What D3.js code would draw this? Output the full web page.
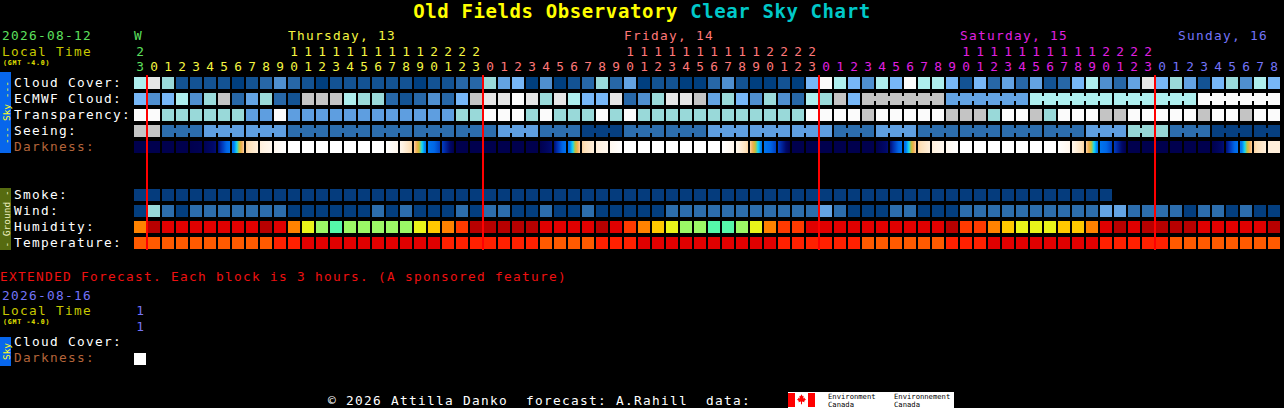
<!DOCTYPE html>
<html><head><meta charset="utf-8">
<script src="https://cdn.jsdelivr.net/npm/d3@7"></script>
<style>
html,body{margin:0;padding:0;background:#000;overflow:hidden}
svg{display:block}
text{font-family:"DejaVu Sans Mono",monospace;white-space:pre}
</style></head><body>
<svg id="c" width="1284" height="408"></svg>
<script>
// ---------------- DATA ----------------
const chartTitle = "Old Fields Observatory";
const chartSubtitle = "Clear Sky Chart";
const startDate = "2026-08-12";
const extDate = "2026-08-16";
const dayNames = ["W", "Thursday, 13", "Friday, 14", "Saturday, 15", "Sunday, 16"];
const hourLabels = [23,
  0,1,2,3,4,5,6,7,8,9,10,11,12,13,14,15,16,17,18,19,20,21,22,23,
  0,1,2,3,4,5,6,7,8,9,10,11,12,13,14,15,16,17,18,19,20,21,22,23,
  0,1,2,3,4,5,6,7,8,9,10,11,12,13,14,15,16,17,18,19,20,21,22,23,
  0,1,2,3,4,5,6,7,8];
// cloud cover %, hourly
const cloudCover = [80,95,70,10,10,10,10,0,10,20,40,20,10,0,10,10,10,10,10,10,0,
  10,10,20,20,70,50,60,0,40,0,10,20,70,20,50,0,10,10,0,0,20,40,10,0,0,10,0,60,100,80,
  60,40,80,60,100,80,80,60,10,60,20,50,20,50,10,20,60,80,40,20,50,95,60,70,50,10,60,70,40,80,60];
// ECMWF cloud %, hourly part then 6-hour blocks [value, hours]
const ecmwfHourly = [60,40,60,80,40,70,90,20,50,70,20,10,90,90,90,80,70,70,20,10,20,
  40,20,60,90,95,95,100,95,70,95,80,60,60,95,20,40,70,95,95,90,50,70,60,40,70,40,20,80,70,90,
  60];
const ecmwfBlocks = [[90,6],[50,6],[80,6],[80,6],[100,6]];
// transparency class (0 too cloudy .. 5 transparent)
const transparency = [0,0,2,2,2,2,2,2,3,3,0,3,3,3,3,3,3,3,3,3,3,
  3,3,2,2,0,0,0,2,0,2,2,2,0,2,0,2,2,2,2,2,2,2,2,2,2,2,2,0,0,0,
  0,1,0,0,0,0,0,1,1,1,2,0,0,1,2,0,0,0,1,1,0,0,0,0,0,1,0,0,1,0,0];
// seeing class runs [class, hours] (0 = too cloudy, 1 bad .. 5 excellent)
const seeingRuns = [[0,2],[2,3],[3,3],[3,3],[2,3],[2,3],[2,3],[2,3],[2,3],[3,3],[2,3],[1,3],[2,3],[2,3],
  [3,3],[3,3],[3,3],[2,3],[3,3],[2,3],[2,3],[2,3],[2,3],[3,3],[5,3],[2,3],[1,3],[1,2]];
// darkness (limiting magnitude like scale, -4 day .. 6 dark)
const darkness = [6,6,6,6,6,5.8,5,1.5,-1.8,-2.8,-3.4,-4,-4,-4,-4,-4,-4,-4,-4,-3.3,-1.8,1.2,3.6,
  6,6,6,6,6,6,6,5,1.5,-1.8,-2.8,-3.4,-4,-4,-4,-4,-4,-4,-4,-4,-3.3,-1.8,1.2,3.6,
  6,6,6,6,6,6,6,5,1.5,-1.8,-2.8,-3.4,-4,-4,-4,-4,-4,-4,-4,-4,-3.3,-1.8,1.2,3.6,
  6,6,6,6,6,6,6,5,1.5,-1.8,-2.8];
// smoke (ug/m3), available hours only
const smoke = [0,0,0,0,0,0,0,0,0,0,0,0,0,0,0,0,0,0,0,0,0,0,0,0,0,0,0,0,0,0,0,0,0,0,0,
  0,0,0,0,0,0,0,0,0,0,0,0,0,0,0,0,0,0,0,0,0,0,0,0,0,0,0,0,0,0,0,0,0,0,0];
// wind mph
const wind = [3,20,8,3,8,8,8,8,8,8,8,3,3,3,3,3,3,8,3,8,3,
  3,3,8,3,8,8,3,3,8,3,3,8,3,3,3,3,3,8,8,8,8,8,8,8,8,8,8,8,14,8,
  3,3,3,8,8,3,3,3,8,8,8,8,8,8,8,8,8,8,14,14,8,8,8,8,3,8,8,3,8,3,3];
// humidity %
const humidity = [65,95,85,85,85,85,85,85,85,95,85,65,55,50,45,50,50,50,50,50,55,
  60,65,75,95,95,95,95,95,85,85,85,85,95,85,75,65,60,55,50,50,45,45,50,55,65,75,75,85,85,85,
  85,85,85,85,85,85,85,95,75,75,65,60,55,55,55,60,60,65,85,95,85,95,95,95,95,85,85,85,85,85,95];
// temperature C
const temperature = [21,21,21,21,21,21,21,21,21,21,24,24,27,27,27,27,27,27,27,27,27,27,
  24,24,24,24,24,24,24,21,21,21,21,24,24,24,27,27,27,27,27,27,27,27,27,27,
  24,24,24,24,24,24,21,21,21,21,21,21,24,24,24,27,27,27,27,27,27,27,27,24,24,24,24,24,
  21,21,21,21,21,21,21,21];
// extended forecast (3 hour blocks)
const extHours = [11];
const extCloud = [null];
const extDarkness = [-4];

// ---------------- STYLES ----------------
const FS = 12.8, LS = 9.0 - 0.602*12.8;
const cloudColor = d3.scaleOrdinal([0,10,20,30,40,50,60,70,80,90,95,100],
  ["#003f7f","#135393","#2767a7","#3b7bbb","#4f8fcf","#63a3e3","#77b7f7","#9adada","#aeeeee","#c4c4c4","#e6e6e6","#fbfbfb"]);
const transColor = d3.scaleOrdinal([0,1,2,3,4,5], ["#fbfbfb","#c4c4c4","#99d9d9","#5e9ee0","#2c6eae","#003f7f"]);
const seeingColor = d3.scaleOrdinal([0,1,2,3,4,5], ["#c4c4c4","#063f80","#2c6dad","#5e9ee0","#7fbfef","#96d6d6"]);
const windColor = d3.scaleOrdinal([3,8,14,20], ["#033e7f","#2c6dad","#63a3e3","#99d9d9"]);
const smokeColor = d3.scaleOrdinal([0], ["#053c7d"]);
const humColor = d3.scaleOrdinal([45,50,55,60,65,75,85,95],
  ["#55f7aa","#9bf866","#e9f41a","#ffc800","#ff8200","#ff3a00","#e00000","#b80000"]);
const tempColor = d3.scaleOrdinal([21,24,27], ["#ff5a00","#ff2000","#e00000"]);
const darkColor = d3.scaleLinear()
  .domain([-4,-3,-2,-1.2,-0.5,0.2,1,2.5,4,5.2,6])
  .range(["#ffffff","#fff3e4","#fde0b8","#f4ac58","#c8c030","#10d8f8","#0078f0","#0066e6","#0030b0","#000868","#00004e"])
  .clamp(true);
const dayColors = ["#5ee05e","#f5f540","#ff7878","#e020e0","#7474f8"];

// ---------------- DRAW ----------------
const svg = d3.select("#c");
svg.append("rect").attr("width",1284).attr("height",408).attr("fill","#000");
const defs = svg.append("defs");

const x = d3.scaleBand().domain(d3.range(hourLabels.length)).range([134,1280]).paddingInner(2/14).paddingOuter(0);
const bw = x.bandwidth();
const skyRows = ["Cloud Cover:","ECMWF Cloud:","Transparency:","Seeing:","Darkness:"];
const yS = d3.scaleBand().domain(skyRows).range([77,153]).paddingInner(0.25);
const groundRows = ["Smoke:","Wind:","Humidity:","Temperature:"];
const yG = d3.scaleBand().domain(groundRows).range([189,249]).paddingInner(0.25);
const bh = yS.bandwidth();

// title
const t = svg.append("text").attr("x",642).attr("y",17.5).attr("text-anchor","middle")
  .attr("font-size",19).attr("font-weight","bold").attr("letter-spacing",0.6);
t.append("tspan").attr("fill","#ffff00").text(chartTitle + " ");
t.append("tspan").attr("fill","#00c8c8").text(chartSubtitle);

function txt(str, xx, yy, color, size, opts={}) {
  const e = svg.append("text").attr("x",xx).attr("y",yy).attr("fill",color).attr("font-size",size).text(str);
  if (opts.anchor) e.attr("text-anchor",opts.anchor);
  if (opts.weight) e.attr("font-weight",opts.weight);
  if (opts.ls !== undefined) e.attr("letter-spacing",opts.ls);
  return e;
}
const T = {ls: LS};

// header left
txt(startDate, 2, 40, "#5ee05e", FS, T);
txt("Local Time", 2, 55.5, "#c8c800", FS, T);
txt("(GMT -4.0)", 3, 64.5, "#e8e800", 6.6, {weight:"bold", ls:0.75});

// day index per column
let d = 0; const dayOf = hourLabels.map((h,i) => { if (i > 0 && h === 0) d++; return d; });
// hour digits
hourLabels.forEach((h,i) => {
  const cx = x(i) + bw/2, col = dayColors[dayOf[i]];
  if (h >= 10) txt(String(Math.floor(h/10)), cx, 55.5, col, FS, {anchor:"middle"});
  txt(String(h%10), cx, 70.5, col, FS, {anchor:"middle"});
});
// day labels
dayNames.forEach((name, di) => {
  const cols = d3.range(hourLabels.length).filter(i => dayOf[i] === di);
  const c10 = cols.find(i => hourLabels[i] === 10);
  if (c10 !== undefined) txt(name, x(c10), 40, dayColors[di], FS, T);
  else if (cols.length === 1) txt(name, x(cols[0]), 40, dayColors[di], FS, T);
  else txt(name, x(cols[cols.length-1]), 40, dayColors[di], FS, {anchor:"end", ls:LS});
});

// side bars
function sideBar(y0, y1, fill, label, color) {
  svg.append("rect").attr("x",0).attr("y",y0).attr("width",11).attr("height",y1-y0).attr("fill",fill);
  svg.append("text").attr("transform",`translate(6,${(y0+y1)/2}) rotate(-90)`)
    .attr("text-anchor","middle").attr("dominant-baseline","central")
    .attr("fill",color).attr("font-size",9.5).text(label);
}
sideBar(72, 153, "#0766ec", "--- Sky ---", "#ffff20");
sideBar(188, 250, "#566b10", "- Ground -", "#f2f2c4");

// row labels
skyRows.forEach(r => txt(r, 14, yS(r)+10, r === "Darkness:" ? "#b4643a" : "#ffffff", FS, T));
groundRows.forEach(r => txt(r, 14, yG(r)+10, "#ffffff", FS, T));

// simple cells
function cells(values, yy, color) {
  svg.append("g").selectAll("rect").data(values.map((v,i)=>({v,i})).filter(o => o.v !== null))
    .join("rect").attr("x", o => x(o.i)).attr("y", yy).attr("width", bw).attr("height", bh)
    .attr("fill", o => color(o.v));
}
function runs(list, yy, color) {
  const g = svg.append("g");
  let c = 0;
  list.forEach(([v,n]) => {
    if (n > 1) g.append("rect").attr("x", x(c)).attr("y", yy+3).attr("width", x(c+n-1)+bw-x(c)).attr("height", 5).attr("fill", color(v));
    for (let k = 0; k < n; k++) g.append("rect").attr("x", x(c+k)).attr("y", yy).attr("width", bw).attr("height", bh).attr("fill", color(v));
    c += n;
  });
}
cells(cloudCover, yS("Cloud Cover:"), cloudColor);
runs(ecmwfHourly.map(v => [v,1]).concat(ecmwfBlocks), yS("ECMWF Cloud:"), cloudColor);
cells(transparency, yS("Transparency:"), transColor);
runs(seeingRuns, yS("Seeing:"), seeingColor);

// darkness gradients
darkness.forEach((v,i) => {
  const v1 = i < darkness.length-1 ? darkness[i+1] : v;
  const gr = defs.append("linearGradient").attr("id","dk"+i).attr("x1",0).attr("x2",1).attr("y1",0).attr("y2",0);
  d3.range(0, 1.0001, 1/12).forEach(tt => gr.append("stop").attr("offset", tt).attr("stop-color", darkColor(v + (v1 - v)*tt)));
  svg.append("rect").attr("x", x(i)).attr("y", yS("Darkness:")).attr("width", bw).attr("height", bh).attr("fill", `url(#dk${i})`);
});

cells(smoke, yG("Smoke:"), smokeColor);
cells(wind, yG("Wind:"), windColor);
cells(humidity, yG("Humidity:"), humColor);
cells(temperature, yG("Temperature:"), tempColor);

// midnight lines
hourLabels.forEach((h,i) => {
  if (h === 0) svg.append("rect").attr("x", x(i)-2).attr("y", 75).attr("width", 2).attr("height", 175).attr("fill", "#ff0000");
});

// extended forecast
txt("EXTENDED Forecast. Each block is 3 hours. (A sponsored feature)", 0, 281, "#ee1111", FS, T);
txt(extDate, 2, 300, "#7474f8", FS, T);
txt("Local Time", 2, 315, "#c8c800", FS, T);
txt("(GMT -4.0)", 3, 323.5, "#e8e800", 6.6, {weight:"bold", ls:0.75});
extHours.forEach((h,i) => {
  const cx = x(i) + bw/2;
  txt(String(Math.floor(h/10)), cx, 315, "#7474f8", FS, {anchor:"middle"});
  txt(String(h%10), cx, 330.5, "#7474f8", FS, {anchor:"middle"});
});
sideBar(337, 366, "#0766ec", "Sky", "#ffff20");
txt("Cloud Cover:", 14, 346, "#ffffff", FS, T);
txt("Darkness:", 14, 362, "#b4643a", FS, T);
extCloud.forEach((v,i) => { if (v !== null) svg.append("rect").attr("x",x(i)).attr("y",337).attr("width",bw).attr("height",bh).attr("fill",cloudColor(v)); });
extDarkness.forEach((v,i) => svg.append("rect").attr("x",x(i)).attr("y",353).attr("width",bw).attr("height",bh).attr("fill",darkColor(v)));

// footer
txt("© 2026 Attilla Danko  forecast: A.Rahill  data:", 328, 405, "#ffffff", FS, T);
const logo = svg.append("g");
logo.append("rect").attr("x",788).attr("y",392).attr("width",166).attr("height",16).attr("fill","#ffffff");
logo.append("rect").attr("x",788).attr("y",393).attr("width",7).attr("height",14).attr("fill","#ff0000");
logo.append("rect").attr("x",808).attr("y",393).attr("width",7).attr("height",14).attr("fill","#ff0000");
logo.append("path").attr("transform","translate(801.5,399.5) scale(1.05)")
  .attr("d","M0,-5 L1,-3 L2,-3.5 L1.7,-1 L3.5,-2 L3,-0.5 L4.5,0 L2.5,1.5 L3,2.5 L0.5,2 L0.5,4.5 L-0.5,4.5 L-0.5,2 L-3,2.5 L-2.5,1.5 L-4.5,0 L-3,-0.5 L-3.5,-2 L-1.7,-1 L-2,-3.5 L-1,-3 Z")
  .attr("fill","#ff0000");
[["Environment",828],["Environnement",894]].forEach(([s,xx]) => {
  txt(s, xx, 399.2, "#000000", 7.2);
  txt("Canada", xx, 406.6, "#000000", 7.2);
});
</script>
</body></html>
